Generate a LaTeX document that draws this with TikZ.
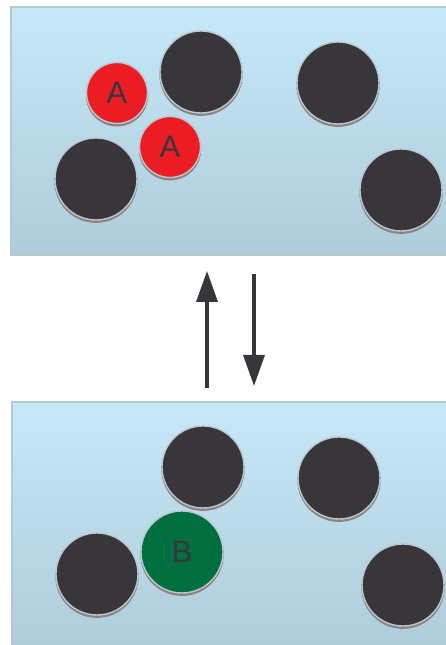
\documentclass[tikz,border=0pt]{standalone}
\usepackage{fontspec}
\setmainfont{Liberation Sans}
\usetikzlibrary{arrows.meta}
\definecolor{bgtop}{HTML}{C6E8F9}
\definecolor{bgbot}{HTML}{AFCCD9}
\definecolor{framec}{HTML}{B6C8D2}
\definecolor{darkc}{HTML}{38363B}
\definecolor{redc}{HTML}{EC1C24}
\definecolor{greenc}{HTML}{006F40}
\definecolor{rimc}{HTML}{BCC8D0}
\definecolor{shadowc}{HTML}{8C8280}
\tikzset{
  panel/.style={top color=bgtop, bottom color=bgbot, draw=framec, line width=1.8pt},
  ball/.style={circle, inner sep=0pt, draw=rimc, line width=1.4pt,
    preaction={fill=shadowc, draw=shadowc, transform canvas={yshift=-2.2pt}},
    text=darkc, font=\fontsize{31}{31}\selectfont},
  darkball/.style={ball, fill=darkc, minimum size=82pt},
  redball/.style={ball, fill=redc, minimum size=61pt},
  greenball/.style={ball, fill=greenc, minimum size=82pt},
  arr/.style={draw=darkc, line width=3.4pt, -{Triangle[length=31pt,width=21pt]}}
}
\begin{document}
\begin{tikzpicture}[x=1pt,y=1pt]
\useasboundingbox (0,0) rectangle (445,645);
% panels
\shade[panel] (11,390) rectangle (452,638);
\shade[panel] (12,-6) rectangle (452,243);
% top panel
\node[darkball] (d1) at (201,573) {};
\node[darkball] (d2) at (338,562) {};
\node[darkball] (d3) at (96,466) {};
\node[darkball] (d4) at (401,455) {};
\node[redball] (a1) at (117,552) {A};
\node[redball] (a2) at (170,498) {A};
% bottom panel
\node[darkball] (e1) at (203,178) {};
\node[darkball] (e2) at (339,167) {};
\node[darkball] (e3) at (97,71) {};
\node[darkball] (e4) at (403,60) {};
\node[greenball] (b) at (182,93) {B};
% arrows
\coordinate (u0) at (207,257);
\coordinate (u1) at (207,374);
\coordinate (w0) at (254,371);
\coordinate (w1) at (254,259);
\draw[arr] (u0) -- (u1);
\draw[arr] (w0) -- (w1);
\end{tikzpicture}
\end{document}
